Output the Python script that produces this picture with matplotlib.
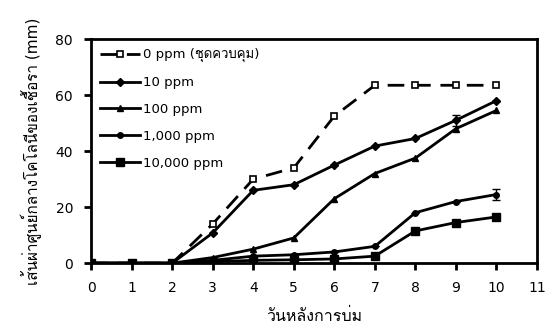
import matplotlib
matplotlib.use("Agg")
import matplotlib.pyplot as plt
from matplotlib import font_manager
from matplotlib.ft2font import FT2Font

# find a font that has Thai glyphs
thai_family = None
for f in font_manager.fontManager.ttflist:
    try:
        if 0x0E27 in FT2Font(f.fname).get_charmap():
            thai_family = f.name
            break
    except Exception:
        pass
families = ['DejaVu Sans'] + ([thai_family] if thai_family else [])
plt.rcParams['font.family'] = families

# data
days = [0, 1, 2, 3, 4, 5, 6, 7, 8, 9, 10]
ppm_0 = [0, 0, 0, 14, 30, 34, 52.5, 63.5, 63.5, 63.5, 63.5]
ppm_10 = [0, 0, 0, 10.8, 26, 28, 35, 41.8, 44.5, 51, 58]
ppm_100 = [0, 0, 0, 2, 5, 9, 23, 32, 37.5, 48, 54.5]
ppm_1000 = [0, 0, 0, 1, 2.5, 3, 4, 6, 18, 22, 24.5]
ppm_10000 = [0, 0, 0, 0.5, 1, 1.2, 1.5, 2.5, 11.5, 14.5, 16.5]
err_10 = [0, 0, 0, 0, 0, 0, 0, 0, 0, 2, 0]
err_1000 = [0, 0, 0, 0, 0, 0, 0, 0, 0, 0, 2]

labels = ['0 ppm (ชุดควบคุม)', '10 ppm', '100 ppm', '1,000 ppm', '10,000 ppm']

fig = plt.figure(figsize=(5.49, 3.31), dpi=100)
ax = fig.add_axes([0.166, 0.205, 0.812, 0.677])

lw = 2
ax.plot(days, ppm_0, color='black', lw=lw, ls=(0, (6, 3.5)), marker='s', ms=5,
        mfc='white', mec='black', mew=1.2, label=labels[0])
ax.plot(days, ppm_10, color='black', lw=lw, marker='D', ms=4, label=labels[1])
ax.plot(days, ppm_100, color='black', lw=lw, marker='^', ms=5, label=labels[2])
ax.plot(days, ppm_1000, color='black', lw=lw, marker='o', ms=4, label=labels[3])
ax.plot(days, ppm_10000, color='black', lw=lw, marker='s', ms=6, label=labels[4])
ax.errorbar(days, ppm_10, yerr=err_10, fmt='none', ecolor='black', capsize=3, elinewidth=1)
ax.errorbar(days, ppm_1000, yerr=err_1000, fmt='none', ecolor='black', capsize=3, elinewidth=1)

ax.set_xlim(0, 11)
ax.set_ylim(0, 80)
ax.set_xticks(range(0, 12))
ax.set_yticks([0, 20, 40, 60, 80])
ax.tick_params(direction='out', length=5, width=2, labelsize=10, pad=8)
for s in ax.spines.values():
    s.set_linewidth(2)

ax.set_xlabel('วันหลังการบ่ม', fontsize=11.5, labelpad=9)
ax.set_ylabel('เส้นผ่าศูนย์กลางโคโลนีของเชื้อรา (mm)', fontsize=11, labelpad=10)

ax.legend(loc='upper left', frameon=False, fontsize=9.5, handlelength=3.0,
          labelspacing=1.05, borderaxespad=0.3, borderpad=0.4, handletextpad=0.2)

fig.savefig('out.png', dpi=100)
